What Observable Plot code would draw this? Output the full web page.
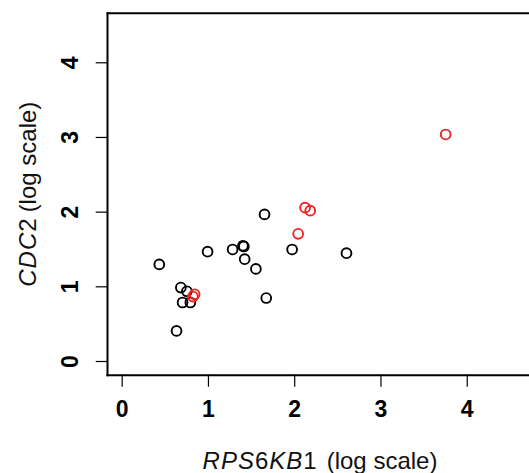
<!DOCTYPE html>
<html><head><meta charset="utf-8">
<script src="https://cdn.jsdelivr.net/npm/d3@7"></script>
<script src="https://cdn.jsdelivr.net/npm/@observablehq/plot@0.6"></script>
<style>body{margin:0;background:#fff} svg{display:block}</style>
</head><body><div id="chart"></div>
<script>
// Values (log scale units)
const blackX = [0.43, 0.63, 0.68, 0.75, 0.70, 0.79, 0.99, 1.28, 1.40, 1.41, 1.42, 1.55, 1.65, 1.67, 1.97, 2.60];
const blackY = [1.30, 0.41, 0.99, 0.94, 0.79, 0.79, 1.47, 1.50, 1.55, 1.54, 1.37, 1.24, 1.97, 0.85, 1.50, 1.45];
const redX = [0.84, 0.82, 2.04, 2.12, 2.18, 3.75];
const redY = [0.90, 0.87, 1.71, 2.06, 2.02, 3.04];
const xTicks = [0, 1, 2, 3, 4];
const yTicks = [0, 1, 2, 3, 4];
const xTitle = "RPS6KB1 (log scale)";
const yTitle = "CDC2 (log scale)";

const black = blackX.map((x, i) => ({x, y: blackY[i]}));
const red = redX.map((x, i) => ({x, y: redY[i]}));
const font = "'Liberation Sans', Arial, sans-serif";

const chart = Plot.plot({
  width: 529, height: 473,
  marginLeft: 107, marginRight: 0, marginTop: 12.7, marginBottom: 98.3,
  style: {fontFamily: font, background: "#fff"},
  x: {domain: [-0.1704, 4.722]},
  y: {domain: [-0.1835, 4.664]},
  marks: [
    Plot.frame({anchor: "left", stroke: "#000", strokeWidth: 2}),
    Plot.frame({anchor: "top", stroke: "#000", strokeWidth: 2}),
    Plot.frame({anchor: "bottom", stroke: "#000", strokeWidth: 2}),
    Plot.axisX({ticks: xTicks, tickSize: 12, text: null, label: null, stroke: "#000", strokeWidth: 1.2}),
    Plot.axisY({ticks: yTicks, tickSize: 11.3, text: null, label: null, stroke: "#000", strokeWidth: 1.2}),
    Plot.text(xTicks, {x: d => d, frameAnchor: "bottom", dy: 41.5, lineAnchor: "bottom", text: d => String(d), fontWeight: "bold", fontSize: 23, fill: "#000"}),
    Plot.text(yTicks, {y: d => d, frameAnchor: "left", dx: -30, rotate: -90, lineAnchor: "bottom", textAnchor: "middle", text: d => String(d), fontWeight: "bold", fontSize: 23, fill: "#000"}),
    Plot.text([xTitle], {frameAnchor: "bottom", dx: 1.5, dy: 93.5, lineAnchor: "bottom", textAnchor: "middle", text: d => d, fontSize: 24, fill: "#111"}),
    Plot.text([yTitle], {frameAnchor: "left", dx: -72, rotate: -90, lineAnchor: "bottom", textAnchor: "middle", text: d => d, fontSize: 24, fill: "#111"}),
    Plot.dot(black, {x: "x", y: "y", r: 4.9, stroke: "#000", strokeWidth: 1.9, fill: "none"}),
    Plot.dot(red, {x: "x", y: "y", r: 4.9, stroke: "#ee2222", strokeWidth: 1.9, fill: "none"})
  ]
});

// Italicise letters of gene names (digits upright), as in the reference
function styleTitle(svg, full, gap) {
  svg.querySelectorAll("text").forEach(t => {
    if (t.textContent !== full) return;
    const gene = full.split(" ")[0];
    const rest = full.slice(gene.length + 1);
    t.textContent = "";
    const parts = gene.match(/[A-Za-z]+|\d+/g);
    parts.forEach(p => {
      const ts = document.createElementNS("http://www.w3.org/2000/svg", "tspan");
      ts.textContent = p;
      if (/[A-Za-z]/.test(p)) ts.setAttribute("font-style", "italic");
      ts.setAttribute("letter-spacing", "1");
      t.appendChild(ts);
    });
    const r = document.createElementNS("http://www.w3.org/2000/svg", "tspan");
    r.textContent = rest;
    r.setAttribute("dx", String(gap));
    t.appendChild(r);
  });
}
styleTitle(chart, xTitle, 9);
styleTitle(chart, yTitle, 5);
document.getElementById("chart").appendChild(chart);
</script>
</body></html>
